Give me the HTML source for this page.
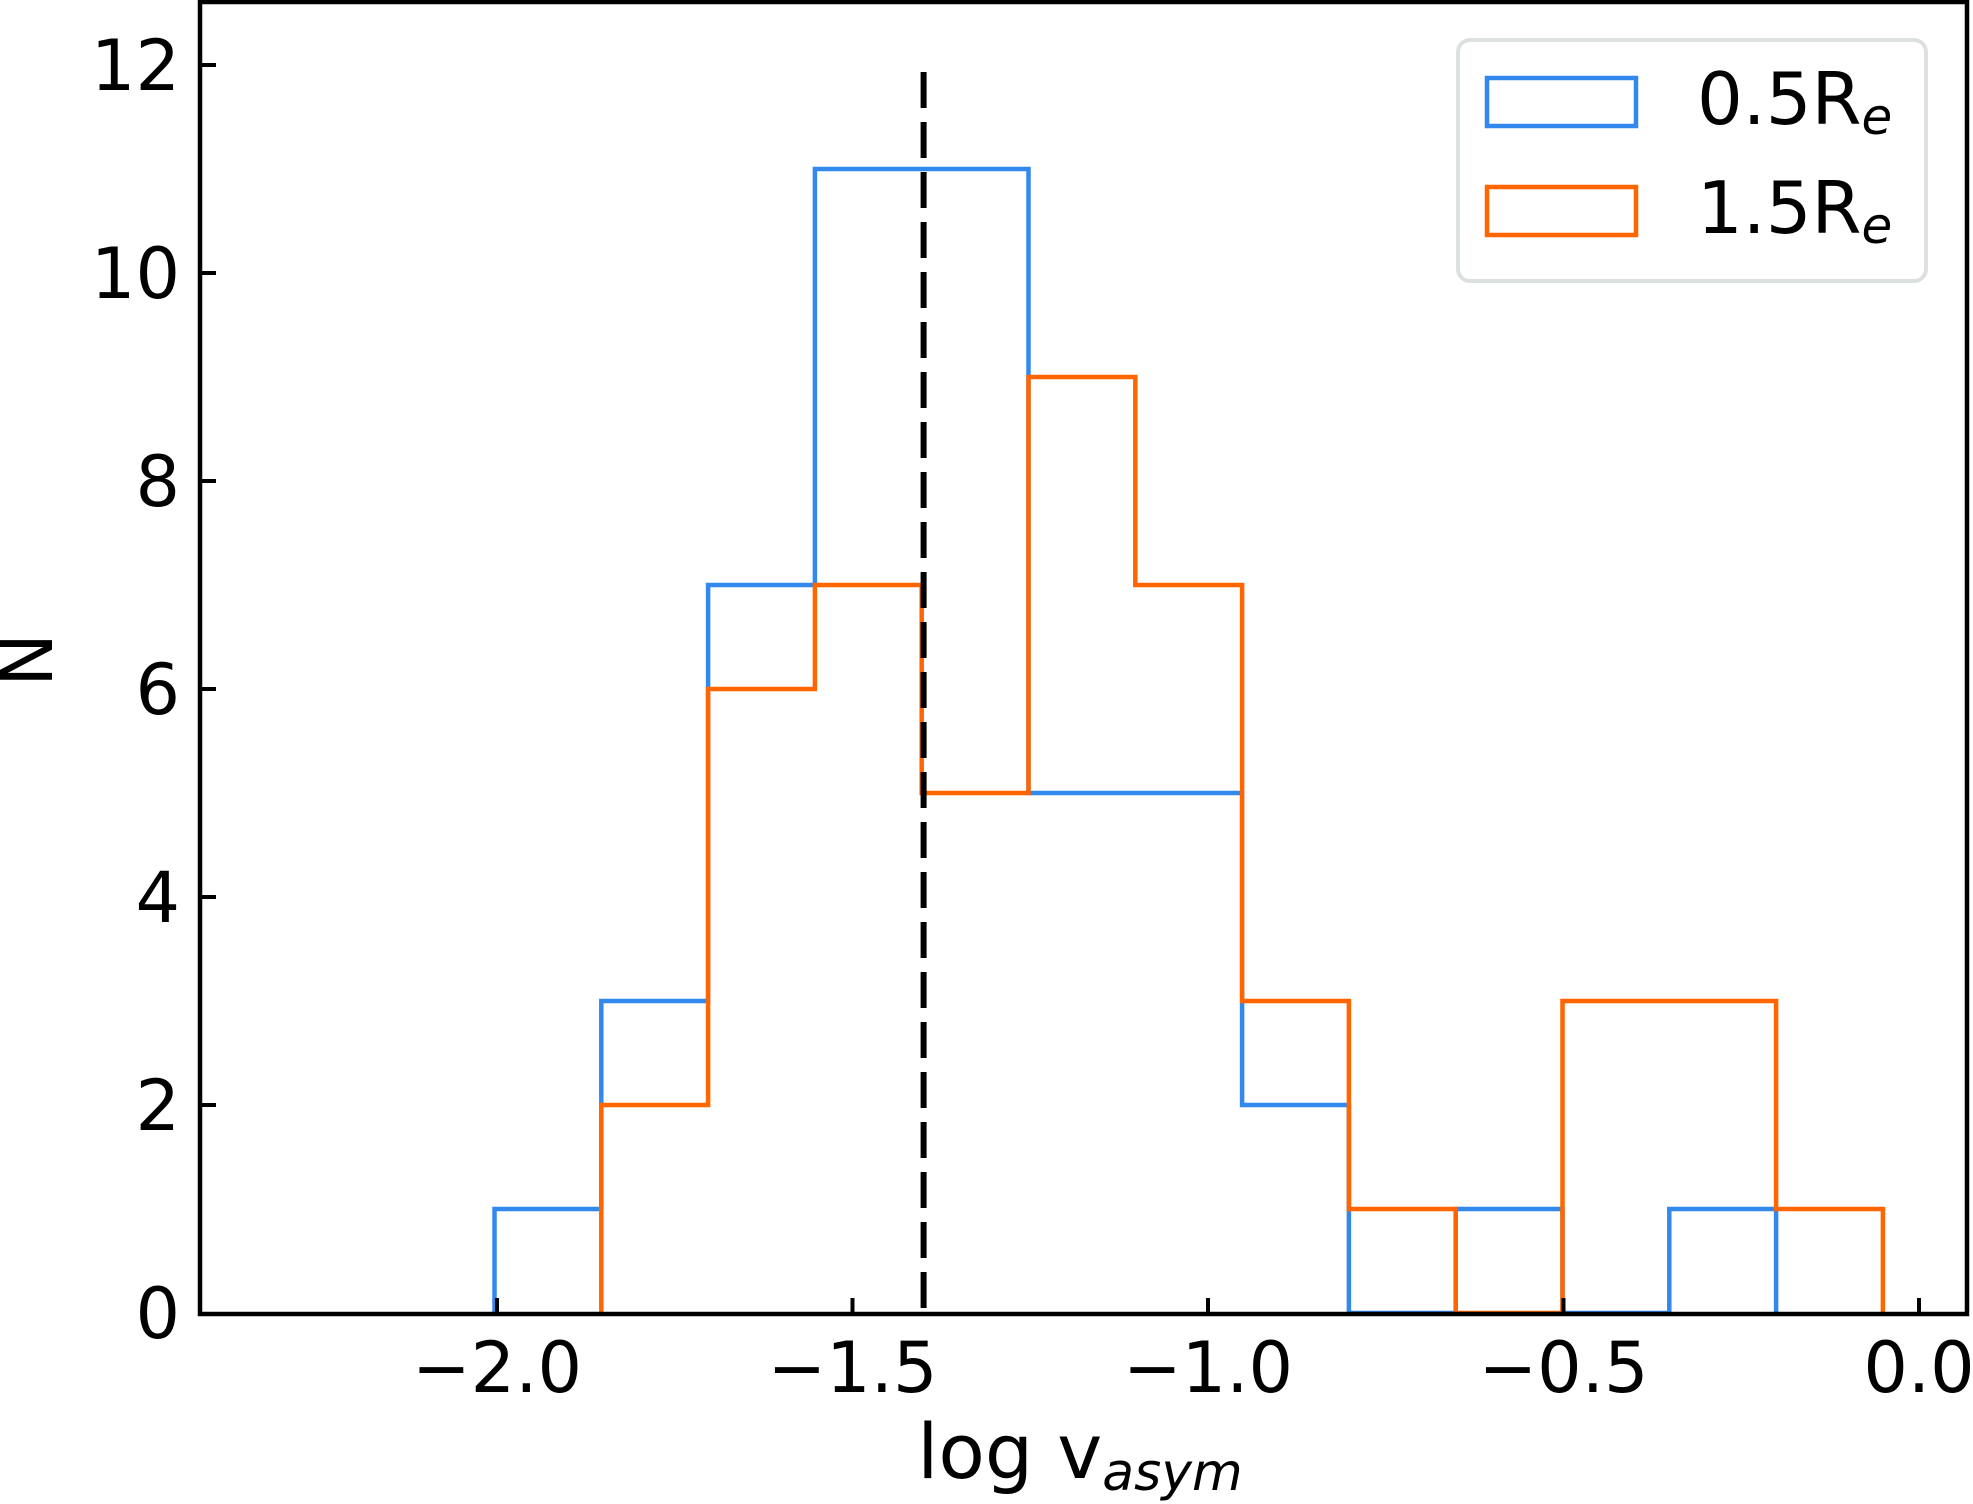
<!DOCTYPE html>
<html><head><meta charset="utf-8"><style>html,body{margin:0;padding:0;background:#fff}svg{display:block}</style></head>
<body>
<svg width="1973" height="1504" xmlns="http://www.w3.org/2000/svg" font-family="DejaVu Sans, sans-serif">
<rect width="1973" height="1504" fill="#fff"/>
<polyline fill="none" stroke="#3388ee" stroke-width="4.5" points="494.5,1313 494.5,1209 601.3,1209 601.3,1001 708.1,1001 708.1,585 814.9,585 814.9,169 921.7,169 1028.5,169 1028.5,793 1135.3,793 1242.1,793 1242.1,1105 1348.9,1105 1348.9,1313 1455.7,1313 1455.7,1209 1562.5,1209 1562.5,1313 1669.3,1313 1669.3,1209 1776.1,1209 1776.1,1313"/>
<polyline fill="none" stroke="#ff6600" stroke-width="4.5" points="601.3,1313 601.3,1105 708.1,1105 708.1,689 814.9,689 814.9,585 921.7,585 921.7,793 1028.5,793 1028.5,377 1135.3,377 1135.3,585 1242.1,585 1242.1,1001 1348.9,1001 1348.9,1209 1455.7,1209 1455.7,1313 1562.5,1313 1562.5,1001 1669.3,1001 1776.1,1001 1776.1,1209 1882.9,1209 1882.9,1313"/>
<line x1="923.6" y1="72" x2="923.6" y2="1313" stroke="#000" stroke-width="6" stroke-dasharray="36,14"/>
<rect x="200" y="2" width="1767" height="1312" fill="none" stroke="#000" stroke-width="4.5"/>
<g stroke="#000" stroke-width="4">
<line x1="200" y1="65" x2="216" y2="65"/><line x1="200" y1="273" x2="216" y2="273"/><line x1="200" y1="481" x2="216" y2="481"/><line x1="200" y1="689" x2="216" y2="689"/><line x1="200" y1="897" x2="216" y2="897"/><line x1="200" y1="1105" x2="216" y2="1105"/>
<line x1="497" y1="1314" x2="497" y2="1298"/><line x1="852.5" y1="1314" x2="852.5" y2="1298"/><line x1="1208" y1="1314" x2="1208" y2="1298"/><line x1="1563.5" y1="1314" x2="1563.5" y2="1298"/><line x1="1919" y1="1314" x2="1919" y2="1298"/>
</g>
<g font-size="70" text-anchor="end" fill="#000">
<text x="180" y="90">12</text><text x="180" y="298">10</text><text x="180" y="506">8</text><text x="180" y="714">6</text><text x="180" y="922">4</text><text x="180" y="1130">2</text><text x="180" y="1338">0</text>
</g>
<g font-size="70" text-anchor="middle" fill="#000">
<text x="497" y="1392">−2.0</text><text x="852.5" y="1392">−1.5</text><text x="1208" y="1392">−1.0</text><text x="1563.5" y="1392">−0.5</text><text x="1919" y="1392">0.0</text>
</g>
<text x="1080" y="1478" font-size="76" text-anchor="middle">log v<tspan font-size="52" font-style="italic" dy="12">asym</tspan></text>
<text transform="translate(52,660) rotate(-90)" font-size="72" text-anchor="middle">N</text>
<rect x="1458" y="40" width="468" height="241" rx="12" fill="#fff" fill-opacity="0.8" stroke="#dce0e0" stroke-width="4"/>
<rect x="1487" y="78" width="149" height="48" fill="none" stroke="#3388ee" stroke-width="4.5"/>
<rect x="1487" y="187" width="149" height="48" fill="none" stroke="#ff6600" stroke-width="4.5"/>
<text x="1697" y="124" font-size="72">0.5R<tspan font-size="50" font-style="italic" dy="10">e</tspan></text>
<text x="1697" y="233" font-size="72">1.5R<tspan font-size="50" font-style="italic" dy="10">e</tspan></text>
</svg>
</body></html>
